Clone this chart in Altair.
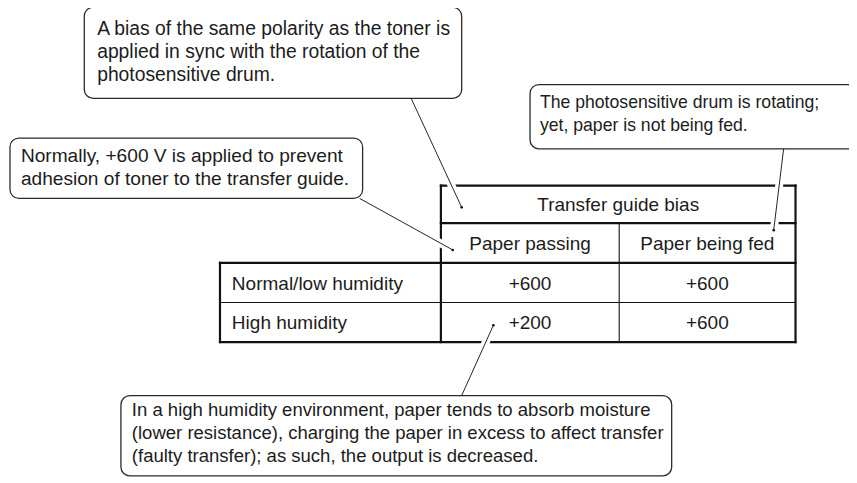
import altair as alt
import pandas as pd

# ---------------- content ----------------
header_label = "Transfer guide bias"
column_labels = ["Paper passing", "Paper being fed"]
row_labels = ["Normal/low humidity", "High humidity"]
bias_values = [["+600", "+600"], ["+200", "+600"]]

note_top = ["A bias of the same polarity as the toner is",
            "applied in sync with the rotation of the",
            "photosensitive drum."]
note_right = ["The photosensitive drum is rotating;",
              "yet, paper is not being fed."]
note_left = ["Normally, +600 V is applied to prevent",
             "adhesion of toner to the transfer guide."]
note_bottom = ["In a high humidity environment, paper tends to absorb moisture",
               "(lower resistance), charging the paper in excess to affect transfer",
               "(faulty transfer); as such, the output is decreased."]

# ---------------- layout (page pixels) ----------------
PAGE_W, PAGE_H, MARGIN = 857, 483, 8
col_x = [222, 445, 625, 803]          # label col left, data start, split, right
row_y = [185, 223, 263, 303, 343]     # header top, sub top, row1, row2, bottom
FS_TABLE = 19.2
LINE = 23
INK = "#1c1c1c"

boxes = [  # x0, y0, x1, y1, text x, first line y, font size, lines
    (85, 5, 466, 97, 98, 27, 19.5, note_top),
    (535, 83, 880, 148, 545, 102, 17.8, note_right),
    (10, 137, 366, 198, 21, 155, 19.3, note_left),
    (122, 397, 678, 478, 133, 412, 18.7, note_bottom),
]
leaders = [  # from box edge to target
    (415, 97, 466, 207),
    (791, 148, 781, 230),
    (363, 198, 457, 250),
    (466, 397, 498, 326),
]

# ---------------- data frames ----------------
thick = pd.DataFrame([
    dict(x=col_x[1], x2=col_x[3], y=row_y[0], y2=row_y[0]),
    dict(x=col_x[1], x2=col_x[3], y=row_y[1], y2=row_y[1]),
    dict(x=col_x[0], x2=col_x[3], y=row_y[2], y2=row_y[2]),
    dict(x=col_x[0], x2=col_x[3], y=row_y[4], y2=row_y[4]),
    dict(x=col_x[1], x2=col_x[1], y=row_y[0], y2=row_y[4]),
    dict(x=col_x[3], x2=col_x[3], y=row_y[0], y2=row_y[4]),
    dict(x=col_x[0], x2=col_x[0], y=row_y[2], y2=row_y[4]),
])
thin = pd.DataFrame([
    dict(x=col_x[0], x2=col_x[3], y=row_y[3], y2=row_y[3]),
    dict(x=col_x[2], x2=col_x[2], y=row_y[1], y2=row_y[4]),
])

cells = []
cells.append(dict(x=(col_x[1] + col_x[3]) / 2, y=(row_y[0] + row_y[1]) / 2 + 1,
                  t=header_label, a="center"))
for j, lab in enumerate(column_labels):
    cells.append(dict(x=(col_x[1 + j] + col_x[2 + j]) / 2,
                      y=(row_y[1] + row_y[2]) / 2 + 1, t=lab, a="center"))
for i, lab in enumerate(row_labels):
    yc = (row_y[2 + i] + row_y[3 + i]) / 2 + 1
    cells.append(dict(x=col_x[0] + 12, y=yc, t=lab, a="left"))
    for j, v in enumerate(bias_values[i]):
        cells.append(dict(x=(col_x[1 + j] + col_x[2 + j]) / 2, y=yc, t=v, a="center"))
cells = pd.DataFrame(cells)

box_df = pd.DataFrame([dict(x=b[0], x2=b[2], y=b[1], y2=b[3]) for b in boxes])
note_txt = pd.DataFrame([dict(x=b[4], y=b[5] + k * LINE, fs=b[6], t=line)
                         for b in boxes for k, line in enumerate(b[7])])
lead_df = pd.DataFrame([dict(x=l[0], y=l[1], x2=l[2], y2=l[3]) for l in leaders])
dot_df = pd.DataFrame([dict(x=l[2], y=l[3]) for l in leaders])

xs = alt.Scale(domain=[MARGIN, PAGE_W], range=[0, PAGE_W - MARGIN])
ys = alt.Scale(domain=[MARGIN, PAGE_H], range=[0, PAGE_H - MARGIN])
X = alt.X("x:Q", scale=xs, axis=None)
Y = alt.Y("y:Q", scale=ys, axis=None)


def rules(df, color, width, cap="square"):
    return alt.Chart(df).mark_rule(color=color, strokeWidth=width, strokeCap=cap).encode(
        x=X, x2="x2:Q", y=Y, y2="y2:Q")


table_thick = rules(thick, "#111111", 2.2)
table_thin = rules(thin, "#111111", 1.1)
halo = rules(lead_df, "white", 8, cap="butt")
box_layer = alt.Chart(box_df).mark_rect(
    fill="white", stroke="#2a2a2a", strokeWidth=1.3, cornerRadius=9
).encode(x=X, x2="x2:Q", y=Y, y2="y2:Q")
lead_layer = rules(lead_df, "#222222", 1, cap="butt")
dot_layer = alt.Chart(dot_df).mark_circle(size=7, color="#111111", opacity=1).encode(x=X, y=Y)

cell_center = alt.Chart(cells[cells.a == "center"]).mark_text(
    font="Liberation Sans", fontSize=FS_TABLE, color=INK, align="center", baseline="middle"
).encode(x=X, y=Y, text="t:N")
cell_left = alt.Chart(cells[cells.a == "left"]).mark_text(
    font="Liberation Sans", fontSize=FS_TABLE, color=INK, align="left", baseline="middle"
).encode(x=X, y=Y, text="t:N")
note_layer = alt.Chart(note_txt).mark_text(
    font="Liberation Sans", color=INK, align="left", baseline="middle"
).encode(x=X, y=Y, text="t:N",
         size=alt.Size("fs:Q", scale=None, legend=None))

chart = alt.layer(
    table_thick, table_thin, halo, box_layer, lead_layer, dot_layer,
    cell_center, cell_left, note_layer
).properties(
    width=PAGE_W - MARGIN, height=PAGE_H - MARGIN,
    padding=0, autosize=alt.AutoSizeParams(type="none"), background="white"
).configure_view(stroke=None)

chart.save("out.html", embed_options={"renderer": "svg", "actions": False})
